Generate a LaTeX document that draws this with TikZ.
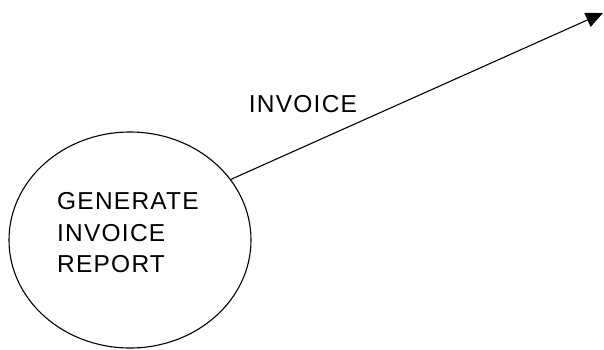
\documentclass[tikz,border=0pt]{standalone}
\usepackage{fontspec}
\setmainfont{Liberation Sans}[LetterSpace=5]
\usetikzlibrary{shapes.geometric,arrows.meta}

\tikzset{
	process/.style={draw, ellipse, line width=1.1pt, minimum width=242pt, minimum height=216pt, inner sep=0pt},
	flow/.style={line width=1.1pt, -{Triangle[length=17pt, width=15pt]}},
	lbl/.style={font=\fontsize{24.5}{31.5}\selectfont, align=left, inner sep=0pt}
}

\begin{document}
\begin{tikzpicture}[x=1pt, y=-1pt]
	\useasboundingbox (0, 0) rectangle (604, 349);

	\node[process] (report) at (130, 240) {};
	\node[lbl, anchor=west] (reporttext) at (57, 233) {GENERATE\\INVOICE\\REPORT};

	\coordinate (sink) at (603, 13);
	\draw [flow] (report.31) -- (sink);
	\node[lbl] (invoice) at (303, 104) {INVOICE};
\end{tikzpicture}
\end{document}
